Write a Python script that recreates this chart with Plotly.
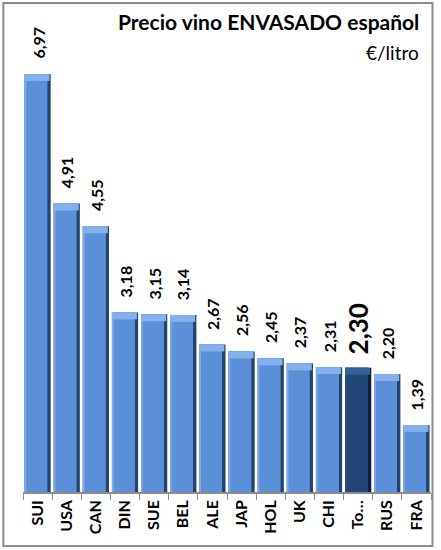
import plotly.graph_objects as go

categories = ["SUI", "USA", "CAN", "DIN", "SUE", "BEL", "ALE", "JAP", "HOL", "UK", "CHI", "To…", "RUS", "FRA"]
values = [6.97, 4.91, 4.55, 3.18, 3.15, 3.14, 2.67, 2.56, 2.45, 2.37, 2.31, 2.30, 2.20, 1.39]
highlight = "To…"

title_text = "Precio vino ENVASADO español"
unit_text = "€/litro"

W, H = 441, 550
L, R, T, B = 22.7, 9.5, 12, 58
y_min = 0.325
px_per_unit = 62.9
y_max = y_min + (H - T - B) / px_per_unit

is_hl = [c == highlight for c in categories]
col_edge_dark = ["#0f2038" if h else "#23436f" for h in is_hl]
col_edge_light = ["#2d5189" if h else "#7eabea" for h in is_hl]
col_main = ["#234678" if h else "#5b8fd8" for h in is_hl]
col_cap = ["#36609a" if h else "#84b1ee" for h in is_hl]
cap = 0.11

fig = go.Figure()
fig.add_trace(go.Bar(x=categories, y=values, width=0.9, offset=-0.45, marker=dict(color=col_edge_dark, line_width=0),
                     hoverinfo="skip", showlegend=False))
fig.add_trace(go.Bar(x=categories, y=values, width=0.78, offset=-0.45, marker=dict(color=col_edge_light, line_width=0),
                     hoverinfo="skip", showlegend=False))
fig.add_trace(go.Bar(x=categories, y=values, width=0.72, offset=-0.39, marker=dict(color=col_main, line_width=0),
                     showlegend=False))
fig.add_trace(go.Bar(x=categories, y=[cap] * len(values), base=[v - cap for v in values], width=0.86, offset=-0.45,
                     marker=dict(color=col_cap, line_width=0), hoverinfo="skip", showlegend=False))

for c, v, h in zip(categories, values, is_hl):
    fig.add_annotation(
        x=c, y=v, xref="x", yref="y",
        text=f"<b>{v:.2f}</b>".replace(".", ","),
        textangle=-90, showarrow=False,
        yanchor="bottom", xanchor="center",
        yshift=13 if not h else 11,
        font=dict(family="Lato, sans-serif", size=26 if h else 16, color="#000000"),
    )

pw, ph = W - L - R, H - T - B
def px(xp): return (xp - L) / pw
def py(yp): return (H - B - yp) / ph

fig.add_annotation(x=px(421), y=py(36), xref="paper", yref="paper",
                   text=f"<b>{title_text}</b>", showarrow=False, xanchor="right", yanchor="bottom",
                   font=dict(family="Lato, sans-serif", size=21, color="#000000"))
fig.add_annotation(x=px(421), y=py(66), xref="paper", yref="paper",
                   text=unit_text, showarrow=False, xanchor="right", yanchor="bottom",
                   font=dict(family="Lato, sans-serif", size=19, color="#000000"))

fig.add_shape(type="rect", xref="paper", yref="paper",
              x0=px(3), x1=px(433), y0=py(546), y1=py(3),
              line=dict(color="#8c8c8c", width=2), fillcolor="rgba(0,0,0,0)", layer="below")

fig.update_layout(
    width=W, height=H,
    margin=dict(l=L, r=R, t=T, b=B, pad=0),
    paper_bgcolor="white", plot_bgcolor="white",
    barmode="overlay",
    separators=",.",
    xaxis=dict(type="category", tickangle=-90, showline=True, linecolor="#8c8c8c", linewidth=1.5,
               ticks="outside", tickson="boundaries", ticklen=6, tickcolor="#8c8c8c",
               tickfont=dict(family="Lato, sans-serif", size=16, color="#000000"),
               showgrid=False, fixedrange=True),
    yaxis=dict(range=[y_min, y_max], visible=False, showgrid=False, fixedrange=True),
)
fig.update_xaxes(ticktext=[f"<b>{c}</b>" for c in categories], tickvals=categories)

fig.write_html("out.html")
